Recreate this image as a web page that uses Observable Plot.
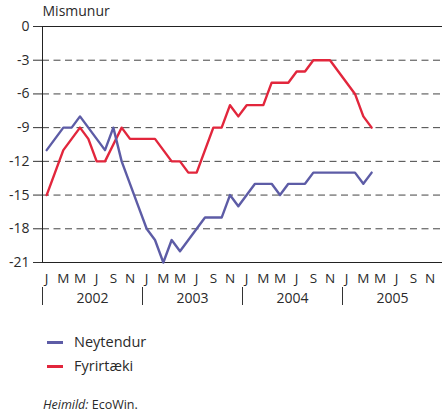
<!DOCTYPE html>
<html>
<head>
<meta charset="utf-8">
<script src="https://cdn.jsdelivr.net/npm/d3@7"></script>
<script src="https://cdn.jsdelivr.net/npm/@observablehq/plot@0.6"></script>
<style>
  html, body { margin: 0; padding: 0; background: #fff; }
  #wrap { position: relative; width: 442px; height: 413px; font-family: "Open Sans", sans-serif; color: #2a2a2a; }
  #chart { position: absolute; left: 0; top: 0; }
  .leg { position: absolute; left: 47px; font-size: 14.5px; line-height: 20px; height: 20px; display: flex; align-items: center; }
  .sw { width: 16px; height: 3px; margin-right: 11px; }
  #cap { position: absolute; left: 43px; top: 397px; font-size: 12.5px; line-height: 15px; }
</style>
</head>
<body>
<div id="wrap">
  <div id="chart"></div>
  <div class="leg" style="top:332px"><span class="sw" style="background:#5d5ca6"></span>Neytendur</div>
  <div class="leg" style="top:356px"><span class="sw" style="background:#e2263c"></span>Fyrirtæki</div>
  <div id="cap"><i>Heimild:</i> EcoWin.</div>
</div>
<script>
// Data: monthly values from Jan 2002 to Apr 2005
const startMonth = "2002-01";
const neytendur = [-11, -10, -9, -9, -8, -9, -10, -11, -9, -12, -14, -16,
                   -18, -19, -21, -19, -20, -19, -18, -17, -17, -17, -15, -16,
                   -15, -14, -14, -14, -15, -14, -14, -14, -13, -13, -13, -13,
                   -13, -13, -14, -13];
const fyrirtaeki = [-15, -13, -11, -10, -9, -10, -12, -12, -10.5, -9, -10, -10,
                    -10, -10, -11, -12, -12, -13, -13, -11, -9, -9, -7, -8,
                    -7, -7, -7, -5, -5, -5, -4, -4, -3, -3, -3, -4,
                    -5, -6, -8, -9];
const years = [2002, 2003, 2004, 2005];
const yTicks = [0, -3, -6, -9, -12, -15, -18, -21];
const monthLetters = ["J", "F", "M", "A", "M", "J", "J", "A", "S", "O", "N", "D"];
const labelledMonths = [1, 3, 5, 7, 9, 11];
const yLabel = "Mismunur";

const blue = "#5d5ca6";
const red = "#e2263c";

const [sy, sm] = startMonth.split("-").map(Number);
// decimal-year position of the middle of a month
const monthPos = (i) => {
  const m = sm - 1 + i;
  return sy + Math.floor(m / 12) + ((m % 12) + 0.5) / 12;
};
const series = (vals, name) => vals.map((v, i) => ({x: monthPos(i), y: v, name}));
const dataN = series(neytendur, "Neytendur");
const dataF = series(fyrirtaeki, "Fyrirtæki");

const monthTicks = years.flatMap(y => labelledMonths.map(m => y + (m - 0.5) / 12));
const yearCenters = years.map(y => y + 0.5);

const chart = Plot.plot({
  width: 442,
  height: 312,
  marginLeft: 42,
  marginRight: 0,
  marginTop: 26,
  marginBottom: 50,
  style: {fontFamily: "Open Sans, sans-serif", fontSize: "14px", color: "#2a2a2a", background: "#fff", overflow: "visible"},
  x: {type: "linear", domain: [2002, 2006], axis: null},
  y: {domain: [-21, 0], axis: null},
  marks: [
    Plot.gridY({ticks: yTicks.filter(v => v !== 0 && v !== -21), stroke: "#444", strokeOpacity: 1, strokeDasharray: "7,4.5"}),
    Plot.ruleY([0, -21], {stroke: "#222", strokeWidth: 1}),
    Plot.ruleX([2002], {stroke: "#222", strokeWidth: 1}),
    Plot.axisY({ticks: yTicks, tickSize: 9, tickPadding: 4, stroke: "#333", tickFormat: d => String(d), label: null, fontSize: 14}),
    Plot.axisX({ticks: monthTicks, tickSize: 0, tickPadding: 11, label: null, fontSize: 13.5,
      tickFormat: d => monthLetters[Math.floor((d - Math.floor(d)) * 12 + 1e-6)]}),
    Plot.axisX({ticks: yearCenters, tickSize: 0, tickPadding: 31, label: null, fontSize: 14,
      tickFormat: d => String(Math.floor(d))}),
    Plot.axisX({ticks: years, tickSize: 18, dy: 25, stroke: "#333", tickFormat: () => "", label: null}),
    Plot.line(dataF, {x: "x", y: "y", stroke: red, strokeWidth: 2.4}),
    Plot.line(dataN, {x: "x", y: "y", stroke: blue, strokeWidth: 2.4}),
    Plot.text([yLabel], {frameAnchor: "top-left", dy: -20, dx: 0, text: d => d, fontSize: 14, textAnchor: "start"})
  ]
});
document.getElementById("chart").appendChild(chart);
</script>
</body>
</html>
